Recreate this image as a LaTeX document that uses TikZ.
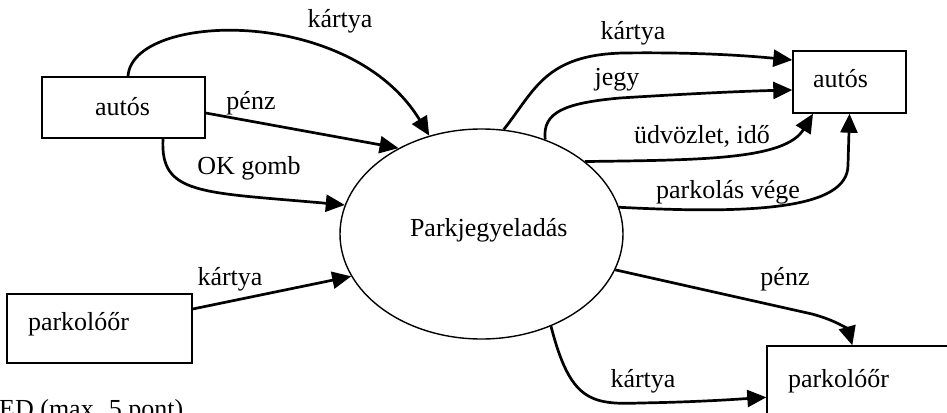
\documentclass[tikz,border=0pt]{standalone}
\usepackage{fontspec}
\setmainfont{Liberation Serif}
\usetikzlibrary{arrows.meta,shapes.geometric}
\newcommand{\boxtxt}[3]{\raisebox{-#2pt}[0pt][0pt]{\makebox[0pt][l]{\hspace*{#1pt}#3}}}
\begin{document}
\begin{tikzpicture}[x=1pt,y=-1pt,
 font=\fontsize{26}{30}\selectfont,
 shapebox/.style={draw, line width=1.4pt, rectangle, inner sep=0pt},
 proc/.style={draw, line width=1.4pt, ellipse, inner sep=0pt, minimum width=283pt, minimum height=210pt},
 flow/.style={line width=2.7pt, -{Triangle[length=19pt,width=17pt]}},
 lbl/.style={anchor=base, inner sep=0pt}]
\useasboundingbox (0,0) rectangle (947,412);
\clip (0,0) rectangle (947,412);

\node[shapebox, minimum width=163pt, minimum height=61pt] (autosL) at (123.5,107.5) {\boxtxt{-28.5}{7.5}{autós}};
\node[shapebox, minimum width=185pt, minimum height=69pt] (parkL) at (99.5,328.5) {\boxtxt{-71.5}{1.5}{parkolóőr}};
\node[proc] (pj) at (481.5,234) {\boxtxt{-71.5}{2}{Parkjegyeladás}};
\node[shapebox, minimum width=113pt, minimum height=62pt] (autosR) at (849.5,82) {\boxtxt{-36.5}{5}{autós}};
\node[shapebox, minimum width=193pt, minimum height=94pt] (parkR) at (863.5,393) {\boxtxt{-75.5}{-6}{parkolóőr}};
\node[anchor=base west, inner sep=0pt] (note) at (-1,417) {ED (max. 5 pont)};

\draw[flow] ([xshift=4.5pt]autosL.north) .. controls (132,12) and (350,5) .. (pj.118);
\draw[flow] ([yshift=-5.5pt]autosL.east) -- (pj.134);
\draw[flow] ([xshift=39.5pt]autosL.south) .. controls (160,195) and (200,192) .. (pj.168);
\draw[flow] ([yshift=19.5pt]parkL.east) -- (pj.198);

\draw[flow] (pj.78) .. controls (535,90) and (545,55) .. (623,53) .. controls (700,52) and (750,56) .. ([yshift=22pt]autosR.west);
\draw[flow] (pj.56) .. controls (542,112) and (565,103) .. (620,98) .. controls (700,93) and (750,91) .. ([yshift=-8pt]autosR.west);
\draw[flow] (pj.35) .. controls (700,160) and (785,160) .. ([xshift=-36.5pt]autosR.south);
\draw[flow] (pj.11) .. controls (750,214) and (848,210) .. (848,165) -- (autosR.south);
\draw[flow] (pj.-15) -- (812,314) .. controls (838,321) and (848,330) .. ([xshift=86pt]parkR.north west);
\draw[flow] (pj.-53) .. controls (570,400) and (590,405) .. (640,403) .. controls (700,402) and (740,399) .. ([yshift=-52pt]parkR.north west);

\node[lbl] (l1) at (340,28) {kártya};
\node[lbl] (l2) at (251,109) {pénz};
\node[lbl] (l3) at (249,174) {OK gomb};
\node[lbl] (l4) at (230,285) {kártya};
\node[lbl] (l5) at (633,40) {kártya};
\node[lbl] (l6) at (617,85) {jegy};
\node[lbl] (l7) at (702,143) {üdvözlet, idő};
\node[lbl] (l8) at (728,198) {parkolás vége};
\node[lbl] (l9) at (785,285) {pénz};
\node[lbl] (l10) at (643,387) {kártya};
\end{tikzpicture}
\end{document}
